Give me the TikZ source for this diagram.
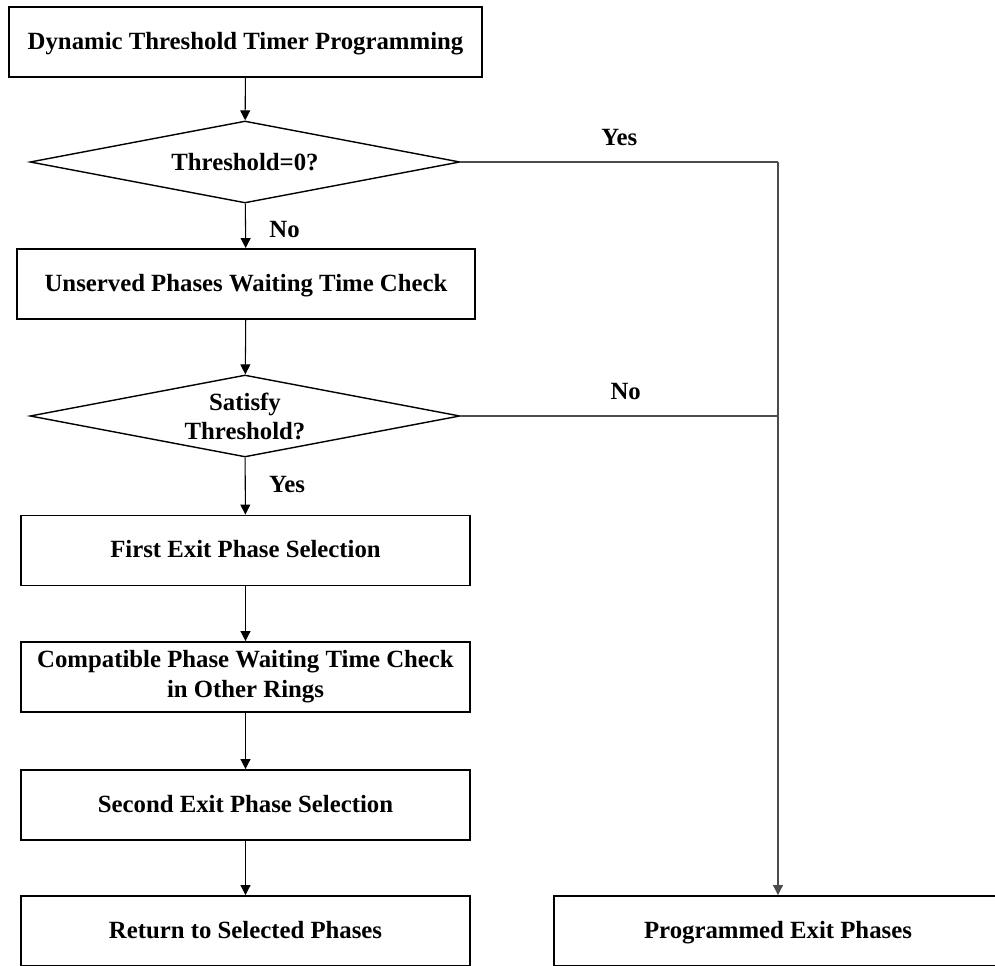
\documentclass[tikz,border=0pt]{standalone}
\usepackage{fontspec}
\setmainfont{Liberation Serif}
\usetikzlibrary{shapes.geometric,arrows.meta}
\tikzstyle{block}=[draw=black,line width=1.1pt,rectangle,minimum width=8.98cm,minimum height=1.4cm,align=center,font=\bfseries\fontsize{14.1}{17}\selectfont]
\tikzstyle{oneline}=[text height=2.3ex,text depth=0.5ex]
\tikzstyle{decision}=[draw=black,line width=0.8pt,diamond,aspect=5.24,minimum width=8.6cm,minimum height=1.64cm,inner sep=0pt,align=center,font=\bfseries\fontsize{14.1}{16.5}\selectfont]
\tikzstyle{answer}=[font=\bfseries\fontsize{14.1}{16.5}\selectfont]
\tikzstyle{flow}=[-{Triangle[length=0.2cm,width=0.2cm]},line width=0.6pt]
\tikzstyle{branch}=[line width=0.6pt,draw=black!70]

\begin{document}
\begin{tikzpicture}[x=0.02cm,y=-0.02cm]
  \useasboundingbox (0,0) rectangle (995,966);
  \node[block,oneline,minimum width=9.46cm] (start) at (245.5,42) {Dynamic Threshold Timer Programming};
  \node[decision] (zero) at (245,162) {Threshold=0?};
  \node[block,oneline,minimum width=9.16cm] (unserved) at (246,284) {Unserved Phases Waiting Time Check};
  \node[decision] (satisfy) at (245,416) {Satisfy\\Threshold?};
  \node[block,oneline] (first) at (245.5,550.5) {First Exit Phase Selection};
  \node[block] (compat) at (245.5,677) {Compatible Phase Waiting Time Check\\in Other Rings};
  \node[block,oneline] (second) at (245.5,805) {Second Exit Phase Selection};
  \node[block,oneline] (ret) at (245.5,931) {Return to Selected Phases};
  \node[block,oneline] (prog) at (778,931) {Programmed Exit Phases};
  \coordinate (corner) at (778,162);

  \draw[flow] (start) -- (zero);
  \draw[flow] (zero) -- (unserved) node[answer,midway,right=0.35cm,yshift=-2pt] {No};
  \draw[flow] (unserved) -- (satisfy);
  \draw[flow] (satisfy) -- (first) node[answer,midway,right=0.35cm,yshift=1pt] {Yes};
  \draw[flow] (first) -- (compat);
  \draw[flow] (compat) -- (second);
  \draw[flow] (second) -- (ret);

  % both exits to the right join the line down to the programmed phases
  \draw[branch] (zero.east) -- (corner) node[answer,black,pos=0.5,above=0.2cm] {Yes};
  \draw[branch] (satisfy.east) -- (satisfy.east -| corner) node[answer,black,pos=0.52,above=0.2cm] {No};
  \draw[branch,flow,draw=black!70] (corner) -- (prog);
\end{tikzpicture}
\end{document}
